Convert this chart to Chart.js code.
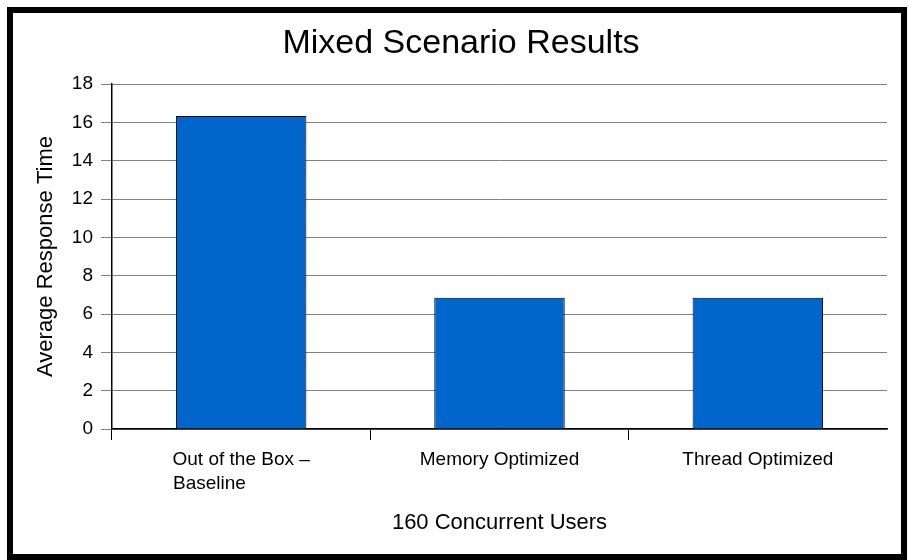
<!DOCTYPE html>
<html>
<head>
<meta charset="utf-8">
<script src="https://cdn.jsdelivr.net/npm/chart.js@4"></script>
<style>
  html, body { margin: 0; padding: 0; background: #fff; }
  #wrap { position: relative; width: 909px; height: 560px; }
  #frame {
    position: absolute; left: 7px; top: 7px; width: 900px; height: 553px;
    box-sizing: border-box; border: 6px solid #000; pointer-events: none;
  }
</style>
</head>
<body>
<div id="wrap">
  <canvas id="chart" width="909" height="560"></canvas>
  <div id="frame"></div>
</div>
<script>
// data
const categories = [
  ['Out of the Box \u2013', 'Baseline            '],
  'Memory Optimized',
  'Thread Optimized'
];
const responseTimes = [16.33, 6.85, 6.85];
const yTicks = [0, 2, 4, 6, 8, 10, 12, 14, 16, 18];

Chart.defaults.font.family = '"Liberation Sans", Arial, sans-serif';
Chart.defaults.color = '#000';

const ctx = document.getElementById('chart').getContext('2d');
new Chart(ctx, {
  type: 'bar',
  data: {
    labels: categories,
    datasets: [{
      data: responseTimes,
      backgroundColor: '#0066CC',
      borderColor: '#000',
      borderWidth: 1,
      categoryPercentage: 1,
      barPercentage: 0.505
    }]
  },
  options: {
    responsive: false,
    animation: false,
    layout: { padding: { left: 35, right: 22, top: 0, bottom: 0 } },
    plugins: {
      legend: { display: false },
      tooltip: { enabled: false },
      title: {
        display: true,
        text: 'Mixed Scenario Results',
        color: '#000',
        font: { size: 34, weight: 'normal', lineHeight: 1.2 },
        padding: { top: 23.6, bottom: 19.6 }
      }
    },
    scales: {
      x: {
        offset: true,
        grid: {
          offset: true,
          drawOnChartArea: false,
          drawTicks: true,
          tickLength: 11,
          // no tick mark at the right end of the axis
          tickColor: c => (c.type === 'tick' && c.index < 3) ? '#000' : 'rgba(0,0,0,0)'
        },
        border: { display: true, color: '#000', width: 1.5 },
        ticks: {
          font: { size: 19, lineHeight: 1.26 },
          padding: 8,
          maxRotation: 0,
          autoSkip: false
        },
        title: {
          display: true,
          text: '160 Concurrent Users',
          font: { size: 22, lineHeight: 1.2 },
          padding: { top: 0, bottom: 23.8 }
        },
        afterFit: s => { s.height = 131; }
      },
      y: {
        min: 0,
        max: 18,
        afterBuildTicks: s => { s.ticks = yTicks.map(v => ({ value: v })); },
        grid: {
          color: '#808080',
          lineWidth: 1,
          tickLength: 11,
          tickColor: '#808080'
        },
        border: { display: true, color: '#000', width: 1.5 },
        ticks: {
          font: { size: 19 },
          padding: 8
        },
        title: {
          display: true,
          text: 'Average Response Time',
          font: { size: 22, lineHeight: 1 },
          padding: 0
        },
        afterFit: s => { s.width = 77; }
      }
    }
  }
});
</script>
</body>
</html>
